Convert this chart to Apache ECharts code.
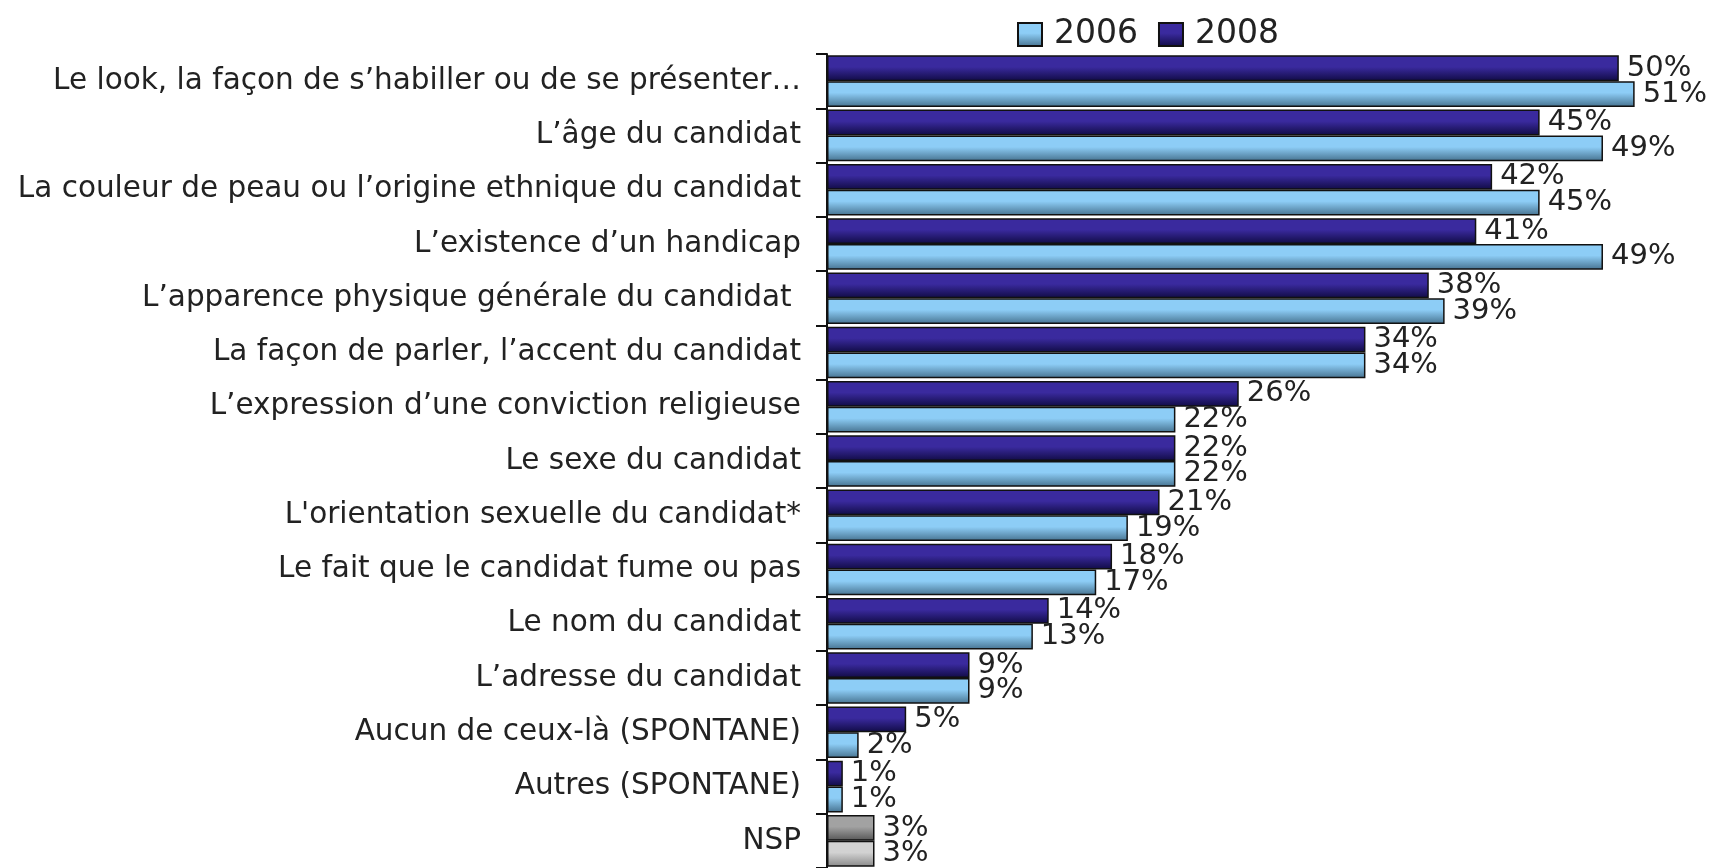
<!DOCTYPE html>
<html>
<head>
<meta charset="utf-8">
<script src="https://cdn.jsdelivr.net/npm/echarts@6/dist/echarts.min.js"></script>
<style>
  html, body { margin: 0; padding: 0; background: #fff; }
  #chart { width: 1722px; height: 868px; }
</style>
</head>
<body>
<div id="chart"></div>
<script>
const categories = [
  "Le look, la façon de s’habiller ou de se présenter…",
  "L’âge du candidat",
  "La couleur de peau ou l’origine ethnique du candidat",
  "L’existence d’un handicap",
  "L’apparence physique générale du candidat ",
  "La façon de parler, l’accent du candidat",
  "L’expression d’une conviction religieuse",
  "Le sexe du candidat",
  "L'orientation sexuelle du candidat*",
  "Le fait que le candidat fume ou pas",
  "Le nom du candidat",
  "L’adresse du candidat",
  "Aucun de ceux-là (SPONTANE)",
  "Autres (SPONTANE)",
  "NSP"
];
const values2008 = [50, 45, 42, 41, 38, 34, 26, 22, 21, 18, 14, 9, 5, 1, 3];
const values2006 = [51, 49, 45, 49, 39, 34, 22, 22, 19, 17, 13, 9, 2, 1, 3];

const FONT = "DejaVu Sans";

function grad(top, bottom) {
  return new echarts.graphic.LinearGradient(0, 0, 0, 1, [
    { offset: 0, color: top },
    { offset: 0.45, color: top },
    { offset: 1, color: bottom }
  ]);
}

const darkColor = grad("#3a2a9e", "#100b44");
const lightColor = grad("#8dcdf6", "#46728f");

// NSP bars are grey in the original
function withNsp(values, top, bottom) {
  return values.map((v, i) => {
    if (categories[i] === "NSP") {
      return { value: v, itemStyle: { color: grad(top, bottom) } };
    }
    return v;
  });
}

const chart = echarts.init(document.getElementById("chart"));
chart.setOption({
  animation: false,
  textStyle: { fontFamily: FONT },
  legend: {
    data: ["2006", "2008"],
    top: 13,
    left: 1012,
    icon: "rect",
    itemWidth: 24,
    itemHeight: 23,
    itemGap: 20,
    textStyle: {
      fontFamily: FONT,
      fontSize: 33,
      color: "#222",
      padding: [0, 0, 0, 7]
    }
  },
  grid: {
    left: 827,
    right: 24,
    top: 54,
    bottom: -3.5,
    containLabel: false
  },
  xAxis: {
    type: "value",
    min: 0,
    max: 55,
    show: false
  },
  yAxis: {
    type: "category",
    inverse: true,
    data: categories,
    axisLine: { show: true, lineStyle: { color: "#111", width: 2 } },
    axisTick: { show: true, length: 11, lineStyle: { color: "#111", width: 2 } },
    splitLine: { show: false },
    axisLabel: {
      margin: 26,
      fontFamily: FONT,
      fontSize: 29.5,
      color: "#222"
    }
  },
  series: [
    {
      name: "2008",
      type: "bar",
      data: withNsp(values2008, "#a2a2a2", "#555555"),
      barGap: "0%",
      barCategoryGap: "5%",
      itemStyle: { color: darkColor, borderColor: "#111", borderWidth: 1.5 },
      label: {
        show: true,
        position: "right",
        distance: 8,
        formatter: "{c}%",
        fontFamily: FONT,
        fontSize: 29,
        color: "#222"
      }
    },
    {
      name: "2006",
      type: "bar",
      data: withNsp(values2006, "#d2d2d2", "#8a8a8a"),
      barGap: "0%",
      barCategoryGap: "5%",
      itemStyle: { color: lightColor, borderColor: "#111", borderWidth: 1.5 },
      label: {
        show: true,
        position: "right",
        distance: 8,
        formatter: "{c}%",
        fontFamily: FONT,
        fontSize: 29,
        color: "#222"
      }
    }
  ]
});
</script>
</body>
</html>
